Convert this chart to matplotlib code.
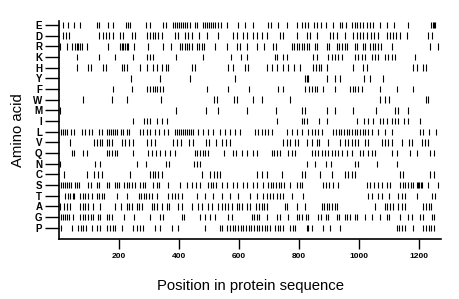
import matplotlib
matplotlib.use('Agg')
import matplotlib.pyplot as plt

plt.rcParams['font.family'] = ['Liberation Sans', 'DejaVu Sans']

# residue positions of each amino acid (approximate)
amino_acids = ['E', 'D', 'R', 'K', 'H', 'Y', 'F', 'W', 'M', 'I',
               'L', 'V', 'Q', 'N', 'C', 'S', 'T', 'A', 'G', 'P']
seq_length = 1273

pos_E = [14, 31, 50, 70, 126, 134, 164, 181, 222, 230, 238, 289, 303, 348, 357, 381, 388, 394, 401, 408,
         414, 421, 428, 437, 453, 461, 481, 488, 494, 501, 508, 514, 521, 531, 539, 561, 598, 620, 648, 698,
         705, 731, 761, 792, 809, 820, 831, 850, 861, 872, 890, 914, 937, 944, 956, 976, 987, 994, 1003, 1014,
         1026, 1037, 1048, 1070, 1094, 1117, 1164, 1240, 1246, 1250, 1254]
pos_D = [14, 23, 32, 134, 146, 157, 168, 179, 203, 214, 242, 253, 292, 303, 314, 320, 331, 342, 387, 398,
         420, 431, 442, 468, 492, 531, 581, 594, 614, 628, 648, 661, 676, 692, 737, 748, 792, 826, 837, 861,
         903, 914, 926, 953, 981, 992, 1003, 1014, 1026, 1039, 1050, 1064, 1092, 1103, 1114, 1123, 1137, 1159,
         1231, 1242]
pos_R = [3, 25, 42, 53, 59, 64, 70, 75, 94, 164, 203, 209, 214, 220, 225, 231, 250, 296, 345, 372, 403, 411,
         419, 427, 434, 442, 459, 467, 476, 484, 520, 561, 594, 603, 628, 659, 683, 712, 723, 775, 783, 792,
         801, 809, 817, 826, 834, 853, 861, 892, 901, 925, 934, 943, 952, 961, 987, 994, 1012, 1020, 1037,
         1046, 1054, 1063, 1072, 1109, 1237, 1264]
pos_K = [59, 133, 186, 248, 294, 303, 312, 390, 479, 572, 606, 625, 720, 725, 748, 759, 845, 859, 898, 909,
         920, 931, 942, 987, 998, 1009, 1020, 1042, 1053, 1064, 1087, 1098, 1109, 1120, 1186]
pos_H = [61, 98, 106, 148, 157, 209, 217, 225, 270, 292, 314, 328, 342, 357, 364, 442, 453, 564, 579, 620,
         631, 692, 709, 725, 745, 764, 783, 803, 848, 857, 866, 874, 892, 979, 1014, 1026, 1181, 1192, 1214,
         1223]
pos_Y = [240, 335, 437, 587, 820, 826, 831, 893, 920, 937, 1015, 1037, 1081]
pos_F = [181, 242, 292, 303, 314, 320, 328, 337, 348, 494, 564, 634, 731, 748, 820, 834, 843, 852, 861, 879,
         920, 970, 979, 988, 997, 1009, 1070, 1125, 1181]
pos_W = [81, 175, 226, 340, 516, 526, 584, 593, 646, 678, 769, 1070, 1086, 1099, 1222, 1230]
pos_M = [3, 390, 490, 531, 628, 723, 809, 820, 893, 920, 981, 1057, 1120, 1131, 1162]
pos_I = [245, 283, 292, 303, 325, 342, 361, 726, 809, 818, 827, 865, 893, 992, 1015, 1031, 1048, 1070, 1081,
         1092, 1109, 1120, 1131, 1151, 1162, 1204]
pos_L = [5, 12, 19, 26, 39, 50, 75, 86, 101, 110, 134, 142, 159, 166, 172, 179, 186, 192, 205, 214, 225, 234,
         270, 281, 292, 303, 320, 334, 350, 364, 387, 394, 401, 408, 414, 421, 428, 434, 441, 448, 464, 481,
         498, 514, 537, 553, 570, 587, 603, 653, 664, 675, 687, 698, 709, 759, 776, 792, 809, 831, 842, 853,
         864, 875, 914, 923, 932, 941, 950, 959, 968, 977, 985, 994, 1003, 1012, 1021, 1030, 1042, 1064, 1087,
         1109, 1203, 1212, 1234, 1257]
pos_V = [37, 118, 127, 135, 144, 159, 168, 177, 209, 220, 234, 248, 292, 305, 320, 381, 392, 406, 434, 445,
         490, 501, 523, 542, 557, 570, 748, 759, 770, 787, 798, 826, 842, 859, 868, 898, 937, 953, 964, 975,
         987, 998, 1020, 1031, 1076, 1087, 1098, 1109, 1142, 1165, 1176, 1209, 1220, 1231]
pos_Q = [42, 50, 81, 94, 159, 168, 177, 186, 194, 248, 298, 309, 323, 337, 353, 370, 387, 453, 461, 470, 479,
         488, 498, 550, 579, 590, 609, 625, 645, 661, 709, 717, 725, 737, 764, 775, 787, 842, 853, 864, 875,
         887, 898, 909, 920, 931, 942, 959, 976, 1003, 1014, 1031, 1042, 1053, 1109, 1126, 1170, 1192, 1237,
         1250]
pos_N = [3, 120, 137, 260, 290, 355, 365, 450, 460, 470, 826, 853, 890, 907, 985, 998, 1059, 1126]
pos_C = [15, 93, 115, 129, 143, 237, 303, 314, 320, 331, 342, 476, 504, 515, 526, 537, 659, 676, 693, 742,
         809, 820, 870, 909, 953, 964, 975, 987, 1137, 1148, 1237, 1248]
pos_S = [5, 12, 19, 26, 32, 39, 53, 61, 68, 98, 106, 125, 134, 159, 168, 186, 194, 201, 217, 225, 234, 243,
         252, 270, 279, 288, 312, 326, 334, 364, 403, 425, 442, 457, 470, 498, 506, 514, 523, 542, 559, 581,
         594, 614, 628, 648, 659, 681, 698, 705, 714, 723, 732, 741, 750, 770, 792, 803, 809, 881, 890, 899,
         914, 931, 1026, 1037, 1050, 1064, 1075, 1092, 1103, 1137, 1146, 1154, 1163, 1172, 1181, 1192, 1197,
         1201, 1206, 1210, 1231, 1264]
pos_T = [20, 29, 38, 45, 51, 70, 79, 88, 97, 109, 126, 134, 143, 151, 193, 226, 265, 274, 283, 291, 300, 309,
         325, 364, 375, 387, 398, 409, 459, 487, 514, 542, 570, 598, 637, 659, 681, 692, 703, 714, 725, 737,
         748, 775, 814, 1031, 1042, 1064, 1075, 1101, 1131, 1142, 1153, 1192, 1242, 1253]
pos_A = [3, 17, 26, 35, 70, 79, 88, 96, 114, 137, 186, 205, 225, 234, 243, 259, 268, 277, 309, 317, 326, 342,
         359, 368, 398, 409, 442, 464, 476, 498, 509, 531, 542, 553, 564, 575, 592, 601, 610, 628, 637, 657,
         666, 675, 683, 692, 753, 761, 792, 820, 875, 883, 892, 901, 910, 919, 928, 1053, 1087, 1094, 1103,
         1112, 1131, 1142, 1153, 1214, 1223, 1232, 1241]
pos_G = [5, 12, 19, 26, 32, 45, 70, 79, 88, 96, 105, 114, 130, 137, 160, 168, 176, 215, 250, 303, 337, 345,
         409, 417, 470, 487, 503, 520, 564, 575, 642, 650, 659, 668, 692, 725, 737, 764, 792, 801, 809, 823,
         831, 864, 872, 890, 898, 925, 934, 953, 961, 970, 987, 994, 1020, 1042, 1070, 1092, 1101, 1137, 1164,
         1176, 1203, 1212, 1242, 1250]
pos_P = [5, 42, 64, 72, 81, 90, 109, 125, 137, 161, 170, 179, 188, 209, 248, 259, 270, 281, 320, 337, 376,
         398, 487, 537, 542, 561, 570, 579, 588, 597, 606, 614, 623, 632, 641, 650, 659, 668, 677, 685, 694,
         703, 720, 729, 738, 748, 770, 779, 787, 825, 831, 842, 881, 903, 937, 1125, 1134, 1143, 1152, 1181,
         1214, 1223, 1232, 1241, 1248]

positions = [pos_E, pos_D, pos_R, pos_K, pos_H, pos_Y, pos_F, pos_W, pos_M, pos_I,
             pos_L, pos_V, pos_Q, pos_N, pos_C, pos_S, pos_T, pos_A, pos_G, pos_P]

fig = plt.figure(figsize=(4.6, 2.99), dpi=100)
ax = fig.add_axes([0.1283, 0.2007, 0.8304, 0.7301])

n = len(amino_acids)
for i, (aa, pos) in enumerate(zip(amino_acids, positions)):
    y = n - 1 - i
    ax.vlines(pos, y - 0.3, y + 0.3, color='black', linewidth=0.8)

ax.set_xlim(0, seq_length)
ax.set_ylim(-1.05, n - 0.6)
ax.set_yticks(range(n))
ax.set_yticklabels(amino_acids[::-1], fontsize=7, fontweight='bold')
ax.set_xticks([200, 400, 600, 800, 1000, 1200])
ax.tick_params(axis='x', direction='out', length=7, width=1, labelsize=6, pad=3)
ax.tick_params(axis='y', direction='out', length=10, width=1, pad=2)
for lbl in ax.get_xticklabels():
    lbl.set_fontweight('bold')

for side in ['top', 'right']:
    ax.spines[side].set_visible(False)
for side in ['left', 'bottom']:
    ax.spines[side].set_linewidth(1.2)

ax.set_xlabel('Position in protein sequence', fontsize=10.7, labelpad=14)
ax.set_ylabel('Amino acid', fontsize=10.7, labelpad=6)

fig.savefig('out.png', dpi=100)
